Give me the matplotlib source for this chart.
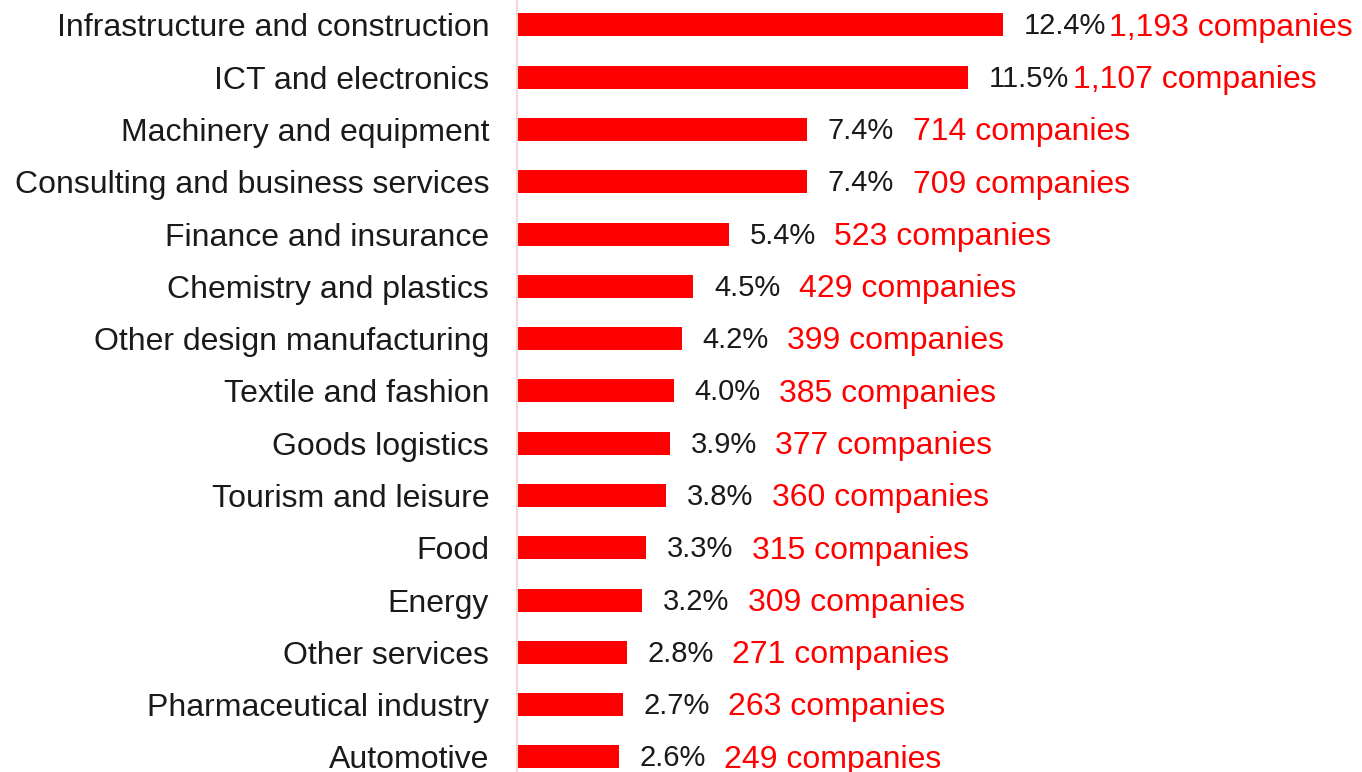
import matplotlib
matplotlib.use("Agg")
import matplotlib.pyplot as plt

plt.rcParams['font.family'] = ['Liberation Sans', 'DejaVu Sans']

sectors = ["Infrastructure and construction", "ICT and electronics",
           "Machinery and equipment", "Consulting and business services",
           "Finance and insurance", "Chemistry and plastics",
           "Other design manufacturing", "Textile and fashion",
           "Goods logistics", "Tourism and leisure", "Food", "Energy",
           "Other services", "Pharmaceutical industry", "Automotive"]
shares = [12.4, 11.5, 7.4, 7.4, 5.4, 4.5, 4.2, 4.0, 3.9, 3.8, 3.3, 3.2,
          2.8, 2.7, 2.6]
companies = [1193, 1107, 714, 709, 523, 429, 399, 385, 377, 360, 315, 309,
             271, 263, 249]

fig = plt.figure(figsize=(13.62, 7.72), dpi=100)
ax = fig.add_axes([0.3796, 0.0, 0.6204, 1.0])

ypos = list(range(len(sectors)))
ax.barh(ypos, shares, height=0.44, color="#ff0000")

for y, s, c in zip(ypos, shares, companies):
    ax.annotate(f"{s:.1f}%", (s, y), xytext=(15, -1), textcoords="offset points",
                ha="left", va="center", fontsize=21, color="#1a1a1a")
    ax.annotate(f"{c:,} companies", (s, y), xytext=(76, -2),
                textcoords="offset points", ha="left", va="center",
                fontsize=23, color="#ff0000")

ax.set_xlim(0, 21.56)
ax.set_ylim(14.287, -0.478)
ax.set_yticks(ypos)
ax.set_yticklabels(sectors, fontsize=23, color="#1a1a1a")
ax.tick_params(axis="y", length=0, pad=20)
ax.set_xticks([])
for side in ["top", "right", "bottom"]:
    ax.spines[side].set_visible(False)
ax.spines["left"].set_color("#fad4d4")
ax.spines["left"].set_linewidth(1.5)

fig.savefig("out.png", dpi=100)
